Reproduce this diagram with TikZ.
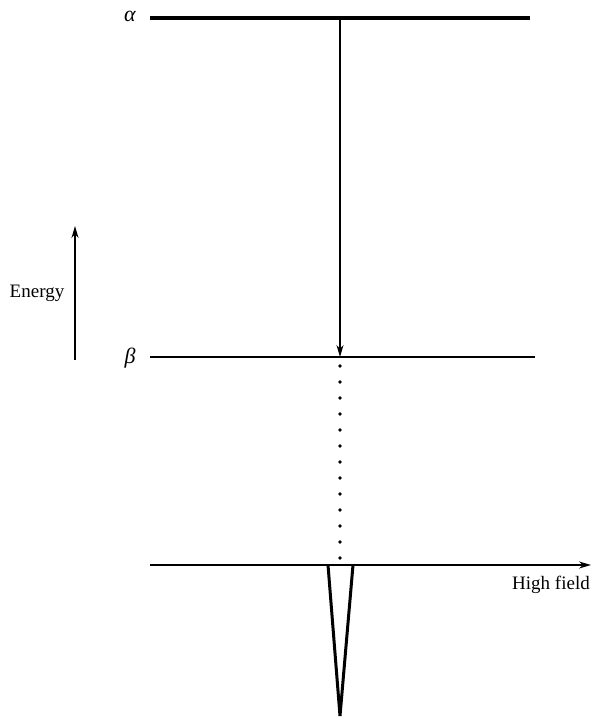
\documentclass[tikz,border=0pt]{standalone}
\usepackage{fontspec}
\setmainfont{Liberation Serif}
\usetikzlibrary{arrows.meta}
\begin{document}
\begin{tikzpicture}[x=1pt,y=-1pt,
  lbl/.style={inner sep=0pt, font=\fontsize{19}{22}\selectfont},
  sym/.style={inner sep=0pt, font=\fontsize{22}{24}\selectfont\itshape},
  arr/.style={-{Stealth[length=12pt,width=7pt]}, line width=1.2pt},
  peak/.style={line width=3pt, line join=miter}]
\useasboundingbox (0,0) rectangle (592,717);
% levels
\coordinate (aL) at (150,18); \coordinate (aR) at (530,18);
\coordinate (bL) at (150,357); \coordinate (bR) at (535,357);
\draw[line width=4pt] (aL) -- (aR);
\draw[line width=2.2pt] (bL) -- (bR);
\node[sym] (alpha) at (130,16) {α};
\node[sym] (beta) at (130,358) {β};
% transition
\coordinate (tA) at (340,18); \coordinate (tB) at (340,357);
\draw[arr] (tA) -- (tB);
% energy arrow
\coordinate (e1) at (75,360); \coordinate (e2) at (75,226);
\draw[arr, line width=1.5pt] (e1) -- (e2);
\node[lbl] (energy) at (37,293) {Energy};
% dotted line
\coordinate (d1) at (340,366); \coordinate (d2) at (340,560);
\draw[line width=3.6pt, line cap=round, dash pattern=on 0pt off 16pt] (d1) -- (d2);
% axis
\coordinate (x1) at (150,565); \coordinate (x2) at (591,565);
\draw[arr, line width=1.4pt] (x1) -- (x2);
\node[lbl] (hf) at (551,585) {High field};
% peak
\coordinate (p1) at (328,565); \coordinate (p2) at (340,716); \coordinate (p3) at (353,565);
\draw[peak] (p1) -- (p2) -- (p3);
\end{tikzpicture}
\end{document}
